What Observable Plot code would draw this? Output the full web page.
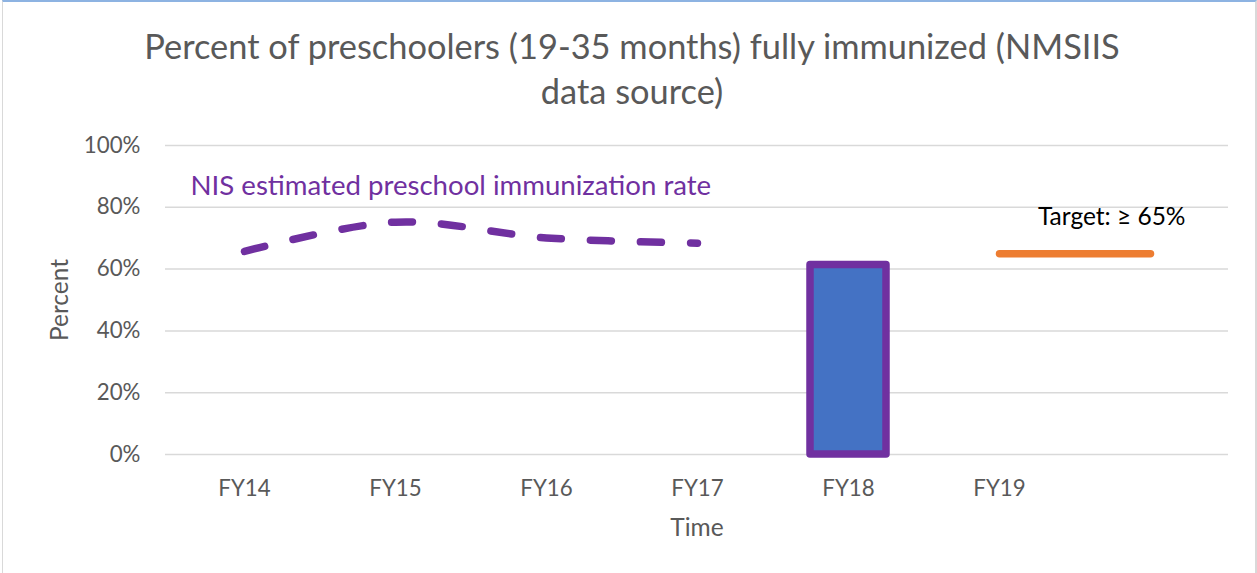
<!DOCTYPE html>
<html><head><meta charset="utf-8">
<script src="https://cdn.jsdelivr.net/npm/d3@7"></script>
<script src="https://cdn.jsdelivr.net/npm/@observablehq/plot@0.6"></script>
<style>
body{margin:0;background:#fff;}
#chart{position:relative;width:1257px;height:573px;overflow:hidden;font-family:Lato,sans-serif;}
#frame{position:absolute;left:2px;top:0;width:1255px;height:590px;border-left:1px solid #d9d9d9;border-right:2px solid #d9d9d9;border-top:2px solid #8db3e2;box-sizing:border-box}
#title{position:absolute;top:23px;left:7px;width:1250px;text-align:center;font-size:34.4px;line-height:45px;color:#595959}
#plot{position:absolute;top:120px;left:0}
</style></head><body>
<div id="chart"><div id="frame"></div><div id="title">Percent of preschoolers (19-35 months) fully immunized (NMSIIS<br>data source)</div><div id="plot"></div></div>
<script>
const categories = ["FY14","FY15","FY16","FY17","FY18","FY19"," "];
const nisYears = ["FY14","FY15","FY16","FY17"];
const nisValues = [65.7, 75.2, 70.1, 68.4];
const barYears = ["FY18"];
const barValues = [61.3];
const targetYears = ["FY19"," "];
const targetValues = [65, 65];
const yTicks = [0,20,40,60,80,100];

const nis = nisYears.map((x,i)=>({x, y:nisValues[i]}));
const bars = barYears.map((x,i)=>({x, y:barValues[i]}));
const target = targetYears.map((x,i)=>({x, y:targetValues[i]}));

const chart = Plot.plot({
  width:1257, height:453, marginTop:25, marginBottom:119, marginLeft:165, marginRight:29,
  style:{fontFamily:"Lato, sans-serif", background:"transparent", overflow:"visible", color:"#595959"},
  x:{type:"band", domain:categories, paddingInner:0.5, paddingOuter:0.25, align:0.5},
  y:{domain:[0,100]},
  marks:[
    Plot.ruleY(yTicks,{stroke:"#d9d9d9", strokeWidth:1.5}),
    Plot.axisY({ticks:yTicks, tickSize:0, tickPadding:25, tickFormat:d=>d+"%", fontSize:22.3, fill:"#595959", label:null}),
    Plot.axisX({tickSize:0, tickPadding:26, fontSize:22.3, fill:"#595959", label:null}),
    Plot.barY(bars,{x:"x", y:"y", fill:"#4472C4", stroke:"#7030A0", strokeWidth:7.5, strokeLinejoin:"round"}),
    Plot.lineY(nis, {x:"x", y:"y", stroke:"#7030A0", strokeWidth:7.5, strokeDasharray:"21,29", strokeLinecap:"round", curve:"catmull-rom"}),
    Plot.lineY(target,{x:"x", y:"y", stroke:"#ED7D31", strokeWidth:7.5, strokeLinecap:"round"}),
    Plot.text(["NIS estimated preschool immunization rate"], {frameAnchor:"top-left", dx:25, dy:41, textAnchor:"start", lineAnchor:"middle", fill:"#7030A0", fontSize:27.6}),
    Plot.text(["Target: ≥ 65%"], {frameAnchor:"top-right", dx:-43, dy:72, textAnchor:"end", lineAnchor:"middle", fill:"#000", fontSize:24.5}),
    Plot.text(["Percent"], {frameAnchor:"left", dx:-105, rotate:-90, textAnchor:"middle", lineAnchor:"middle", fill:"#595959", fontSize:24.5}),
    Plot.text(["Time"], {frameAnchor:"bottom", dy:74, textAnchor:"middle", lineAnchor:"middle", fill:"#595959", fontSize:24.5})
  ]
});
document.getElementById("plot").appendChild(chart);
</script>
</body></html>
